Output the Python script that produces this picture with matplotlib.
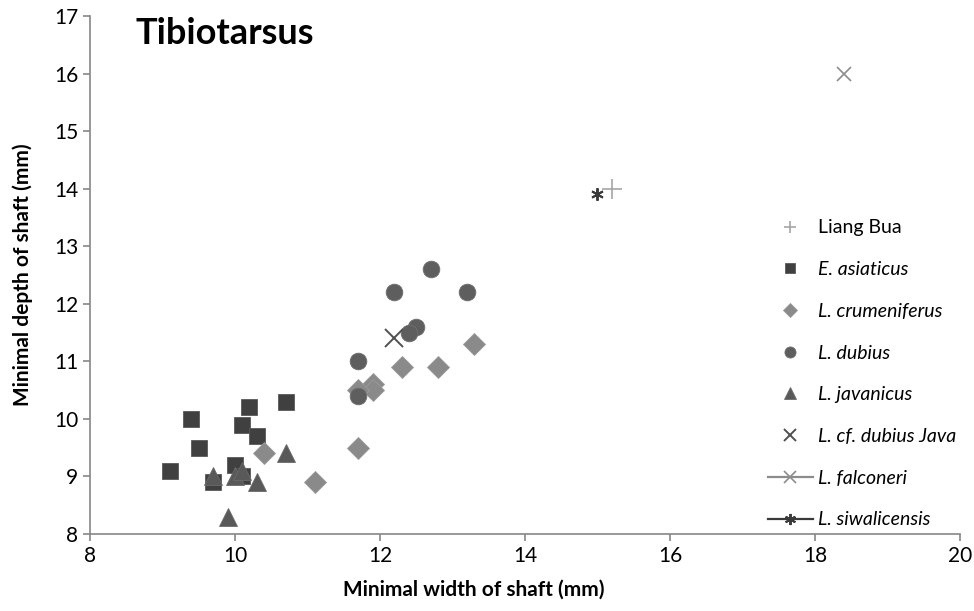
import matplotlib.pyplot as plt

# data (mm)
lb_x = [15.2];  lb_y = [14.0]

asi_x = [9.4, 10.2, 10.7, 10.1, 10.3, 9.5, 9.1, 10.0, 9.7, 10.1]
asi_y = [10.0, 10.2, 10.3, 9.9, 9.7, 9.5, 9.1, 9.2, 8.9, 9.0]

cru_x = [10.4, 11.1, 13.3, 12.3, 12.8, 11.9, 11.9, 11.7, 11.7]
cru_y = [9.4, 8.9, 11.3, 10.9, 10.9, 10.6, 10.5, 10.5, 9.5]

dub_x = [12.7, 12.2, 13.2, 12.5, 12.4, 11.7, 11.7]
dub_y = [12.6, 12.2, 12.2, 11.6, 11.5, 11.0, 10.4]

jav_x = [9.7, 10.0, 10.1, 10.3, 10.7, 9.9]
jav_y = [9.0, 9.0, 9.1, 8.9, 9.4, 8.3]

java_x = [12.2];  java_y = [11.4]
fal_x = [18.4];   fal_y = [16.0]
siw_x = [15.0];   siw_y = [13.9]

plt.rcParams['font.family'] = ['Lato', 'DejaVu Sans']

fig = plt.figure(figsize=(9.74, 6.11), dpi=100)
ax = fig.add_axes([0.0924, 0.126, 0.8932, 0.8478])

ax.plot(lb_x, lb_y, ls='none', marker='+', ms=15, mew=1.2, color='#a6a6a6', label='Liang Bua')
ax.plot(asi_x, asi_y, ls='none', marker='s', ms=12, color='#404040', mec='#595959', mew=0.6, label='E. asiaticus')
ax.plot(cru_x, cru_y, ls='none', marker='D', ms=11, color='#8a8a8a', mec='#9a9a9a', mew=0.6, label='L. crumeniferus')
ax.plot(dub_x, dub_y, ls='none', marker='o', ms=12, color='#5e5e5e', mec='#707070', mew=0.6, label='L. dubius')
ax.plot(jav_x, jav_y, ls='none', marker='^', ms=13, color='#595959', mec='#6a6a6a', mew=0.6, label='L. javanicus')
ax.plot(java_x, java_y, ls='none', marker='x', ms=13, mew=1.4, color='#505050', label='L. cf. dubius Java')
ax.plot(fal_x, fal_y, ls='-', lw=1.6, marker='x', ms=10, mew=1.2, color='#8c8c8c', label='L. falconeri')
ax.plot(siw_x, siw_y, ls='-', lw=1.6, marker=(6, 2, 0), ms=9, mew=1.4, color='#3a3a3a', label='L. siwalicensis')

ax.set_xlim(8, 20)
ax.set_ylim(8, 17)
ax.set_xticks(range(8, 21, 2))
ax.set_yticks(range(8, 18))

for s in ['top', 'right']:
    ax.spines[s].set_visible(False)
for s in ['left', 'bottom']:
    ax.spines[s].set_color('#868686')
    ax.spines[s].set_linewidth(1.2)
ax.tick_params(direction='out', length=5, width=1.2, color='#868686', labelsize=15, labelcolor='black')

ax.set_xlabel('Minimal width of shaft (mm)', fontsize=15, fontweight='bold')
ax.set_ylabel('Minimal depth of shaft (mm)', fontsize=15, fontweight='bold')
ax.xaxis.set_label_coords(0.441, -0.089)
ax.yaxis.set_label_coords(-0.0655, 0.5)

ax.text(0.052, 0.998, 'Tibiotarsus', transform=ax.transAxes, fontsize=26, fontweight='bold', va='top', ha='left')

leg = ax.legend(loc='upper left', bbox_to_anchor=(0.759, 0.641), frameon=False, fontsize=14,
                handlelength=2.3, handletextpad=0.3, labelspacing=1.27)
leg_ms = [9, 7.5, 7, 8, 8, 8, 8, 8]
for h, m in zip(leg.legend_handles, leg_ms):
    h.set_markersize(m)
for i, t in enumerate(leg.get_texts()):
    if i > 0:
        t.set_style('italic')

fig.savefig('out.png', dpi=100)
